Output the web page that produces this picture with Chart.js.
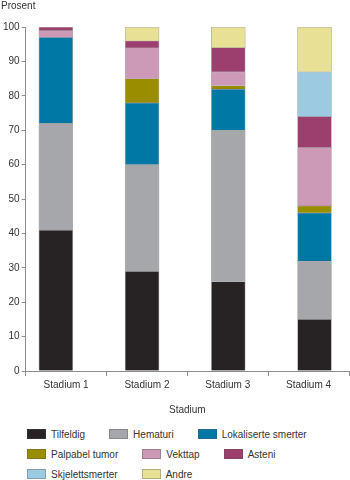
<!DOCTYPE html>
<html>
<head>
<meta charset="utf-8">
<script src="https://cdn.jsdelivr.net/npm/chart.js@4"></script>
<style>
  html, body { margin: 0; padding: 0; background: #fff; }
  body { width: 350px; height: 480px; position: relative; overflow: hidden; font-family: 'Liberation Sans', Arial, sans-serif; }
  #wrap { position: absolute; left: 0; top: 0; width: 350px; height: 416px; }
  #legend { position: absolute; left: 27px; top: 429px; width: 323px; display: flex; flex-wrap: wrap; column-gap: 24px; row-gap: 10px; font-size: 10px; color: #333; }
  .item { display: flex; align-items: center; height: 10px; }
  .box { width: 19px; height: 10px; margin-right: 5px; box-sizing: border-box; border: 1px solid rgba(80,80,80,0.35); }
</style>
</head>
<body>
<div id="wrap"><canvas id="chart"></canvas></div>
<div id="legend"></div>
<script>
// Symptomer ved diagnose, andel i prosent per stadium
const stadier = ['Stadium 1', 'Stadium 2', 'Stadium 3', 'Stadium 4'];
const tilfeldig = [41, 29, 26, 15];
const hematuri = [31, 31, 44, 17];
const lokaliserteSmerter = [25, 18, 12, 14];
const palpabelTumor = [0, 7, 1, 2];
const vekttap = [2, 9, 4, 17];
const asteni = [1, 2, 7, 9];
const skjelettsmerter = [0, 0, 0, 13];
const andre = [0, 4, 6, 13];

const fontFamily = "'Liberation Sans', Arial, sans-serif";
const axisColor = '#8c8c8c';

const serier = [
    { label: 'Tilfeldig', data: tilfeldig, color: '#272324' },
    { label: 'Hematuri', data: hematuri, color: '#a6a7aa' },
    { label: 'Lokaliserte smerter', data: lokaliserteSmerter, color: '#0078a6' },
    { label: 'Palpabel tumor', data: palpabelTumor, color: '#9a8d00' },
    { label: 'Vekttap', data: vekttap, color: '#cc99b6' },
    { label: 'Asteni', data: asteni, color: '#9c3f6f' },
    { label: 'Skjelettsmerter', data: skjelettsmerter, color: '#9ccae0' },
    { label: 'Andre', data: andre, color: '#e8e094' }
];

// søylene står litt forskjøvet i forhold til kategorimerkene i originalen,
// derfor en skjult lineær akse for søylene (stadium nr. 1-4)
const ctx = document.getElementById('chart').getContext('2d');
const chart = new Chart(ctx, {
    type: 'bar',
    data: {
        labels: stadier,
        datasets: serier.map(s => ({
            label: s.label,
            data: s.data.map((v, i) => ({ x: i + 1, y: v })),
            xAxisID: 'xBars',
            backgroundColor: s.color,
            borderColor: 'rgba(80,80,80,0.45)',
            borderWidth: 0.8,
            barThickness: 34
        }))
    },
    options: {
        responsive: true,
        maintainAspectRatio: false,
        animation: false,
        layout: { padding: { left: 1, right: 1, top: 0, bottom: 0 } },
        scales: {
            x: {
                type: 'category',
                offset: true,
                grid: { display: true, offset: true, drawOnChartArea: false, tickLength: 5, color: axisColor },
                border: { display: true, color: axisColor },
                ticks: { color: '#333', padding: 3, font: { family: fontFamily, size: 10 } },
                title: { display: true, text: 'Stadium', color: '#333', padding: { top: 10, bottom: 0 }, font: { family: fontFamily, size: 10 } }
            },
            xBars: {
                type: 'linear',
                display: false,
                stacked: true,
                offset: false,
                min: 0.65,
                max: 4.4
            },
            y: {
                stacked: true,
                min: 0,
                max: 100,
                ticks: { stepSize: 10, color: '#333', padding: 2, font: { family: fontFamily, size: 10 } },
                grid: { display: true, drawOnChartArea: false, tickLength: 4, color: axisColor },
                border: { display: true, color: axisColor }
            }
        },
        plugins: {
            legend: { display: false },
            tooltip: { enabled: false },
            title: {
                display: true,
                text: 'Prosent',
                align: 'start',
                color: '#333',
                font: { family: fontFamily, size: 10, weight: 'normal' },
                padding: { top: 0, bottom: 15 }
            }
        }
    }
});

// Egen legende under diagrammet
const legendEl = document.getElementById('legend');
chart.data.datasets.forEach(ds => {
    const item = document.createElement('div');
    item.className = 'item';
    const box = document.createElement('span');
    box.className = 'box';
    box.style.background = ds.backgroundColor;
    const txt = document.createElement('span');
    txt.textContent = ds.label;
    item.appendChild(box);
    item.appendChild(txt);
    legendEl.appendChild(item);
});
</script>
</body>
</html>
